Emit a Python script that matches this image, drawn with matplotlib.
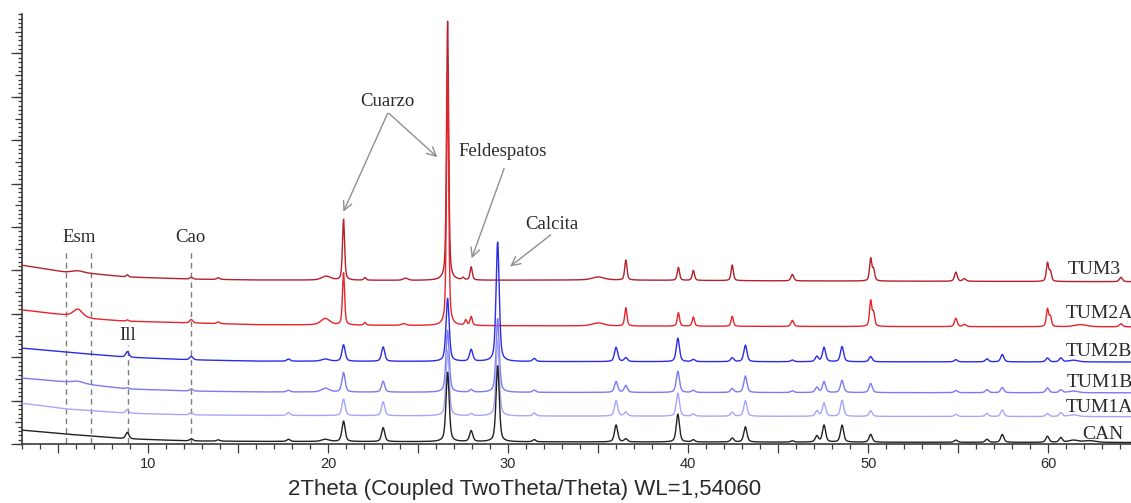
import numpy as np
import matplotlib
matplotlib.use("Agg")
import matplotlib.pyplot as plt
from matplotlib.ticker import MultipleLocator, FixedLocator, FuncFormatter, NullFormatter

# ---- diffractogram data (2theta in degrees, intensity in stacked axis units) ----
samples = ["TUM3", "TUM2A", "TUM2B", "TUM1B", "TUM1A", "CAN"]
colors = ["#b5202b", "#e9232b", "#2b2be8", "#7a7af5", "#a6a6fb", "#222222"]

# background level of each trace at a few 2theta positions
bg_x_red = [3, 5.4, 7.0, 8.8, 12.4, 16, 25, 35, 45, 64.6]
bg_tum3 = [4.12, 3.96, 3.92, 3.85, 3.80, 3.78, 3.77, 3.78, 3.76, 3.74]
bg_tum2a = [3.09, 2.97, 2.88, 2.83, 2.79, 2.75, 2.73, 2.72, 2.71, 2.70]
bg_x_blue = [3, 5.4, 8.8, 12.4, 16, 30, 64.6]
bg_tum2b = [2.21, 2.12, 2.00, 1.94, 1.91, 1.90, 1.89]
bg_tum1b = [1.52, 1.43, 1.27, 1.22, 1.20, 1.19, 1.18]
bg_tum1a = [0.94, 0.81, 0.71, 0.67, 0.66, 0.645, 0.63]
bg_can = [0.32, 0.23, 0.12, 0.07, 0.06, 0.05, 0.035]

# reflections: position, height above background, FWHM
pos_tum3 = [6.1, 8.85, 12.4, 13.9, 19.9, 20.86, 22.05, 24.3, 26.64, 27.5, 27.95, 35.0,
            36.54, 39.46, 40.29, 42.45, 45.79, 50.14, 50.30, 54.87, 55.35, 59.96, 60.12, 64.04]
hgt_tum3 = [0.05, 0.05, 0.04, 0.04, 0.09, 1.40, 0.06, 0.05, 5.97, 0.05, 0.30, 0.07,
            0.46, 0.30, 0.23, 0.36, 0.15, 0.51, 0.25, 0.21, 0.06, 0.42, 0.22, 0.10]
fw_tum3 = [0.8, 0.15, 0.2, 0.2, 0.6, 0.14, 0.15, 0.3, 0.14, 0.15, 0.15, 0.8,
           0.15, 0.15, 0.15, 0.15, 0.18, 0.15, 0.15, 0.18, 0.2, 0.15, 0.15, 0.2]

pos_tum2a = [6.1, 8.85, 12.4, 13.9, 19.85, 20.86, 22.05, 24.2, 26.64, 27.65, 27.95, 35.0,
             36.54, 39.46, 40.29, 42.45, 45.79, 50.14, 50.30, 54.87, 55.35, 59.96, 60.12,
             61.8, 64.04]
hgt_tum2a = [0.18, 0.03, 0.08, 0.04, 0.15, 1.20, 0.06, 0.04, 5.87, 0.12, 0.20, 0.07,
             0.42, 0.31, 0.21, 0.23, 0.14, 0.58, 0.30, 0.19, 0.05, 0.40, 0.22,
             0.05, 0.07]
fw_tum2a = [0.6, 0.15, 0.2, 0.2, 0.6, 0.14, 0.15, 0.3, 0.14, 0.15, 0.15, 0.8,
            0.15, 0.15, 0.15, 0.15, 0.18, 0.15, 0.15, 0.18, 0.2, 0.15, 0.15,
            0.8, 0.2]

pos_tum2b = [8.85, 12.4, 17.8, 19.85, 20.86, 23.06, 26.64, 27.95, 29.42, 31.45, 36.0,
             36.54, 39.43, 40.29, 42.45, 43.18, 45.79, 47.15, 47.55, 48.55, 50.14, 54.87,
             56.6, 57.45, 59.96, 60.7, 61.4]
hgt_tum2b = [0.13, 0.08, 0.05, 0.05, 0.38, 0.33, 1.45, 0.27, 2.75, 0.07, 0.33,
             0.09, 0.54, 0.05, 0.09, 0.38, 0.04, 0.12, 0.33, 0.35, 0.12, 0.05,
             0.07, 0.17, 0.09, 0.09, 0.04]

pos_tum1b = [6.1, 8.85, 12.4, 17.8, 19.85, 20.86, 23.06, 26.64, 27.95, 29.42, 31.45, 36.0,
             36.54, 39.43, 40.29, 42.45, 43.18, 45.79, 47.15, 47.55, 48.55, 50.14, 54.87,
             56.6, 57.45, 59.96, 60.7, 61.4]
hgt_tum1b = [0.05, 0.03, 0.05, 0.04, 0.09, 0.45, 0.25, 1.43, 0.06, 1.70, 0.05, 0.25,
             0.16, 0.49, 0.05, 0.09, 0.38, 0.04, 0.12, 0.25, 0.28, 0.21, 0.05,
             0.07, 0.12, 0.11, 0.07, 0.04]

pos_tum1a = [8.85, 12.4, 17.8, 20.86, 23.06, 26.64, 27.95, 29.42, 31.45, 36.0,
             36.54, 39.43, 40.29, 42.45, 43.18, 47.15, 47.55, 48.55, 50.14, 54.87,
             56.6, 57.45, 59.96, 60.7, 61.4]
hgt_tum1a = [0.09, 0.06, 0.07, 0.38, 0.32, 1.50, 0.05, 1.75, 0.07, 0.36,
             0.09, 0.53, 0.05, 0.09, 0.36, 0.12, 0.31, 0.37, 0.13, 0.05,
             0.07, 0.15, 0.07, 0.09, 0.04]

pos_can = [8.85, 12.4, 13.9, 17.8, 19.85, 20.86, 23.06, 26.64, 27.95, 29.42, 31.45, 36.0,
           36.54, 39.43, 40.29, 42.45, 43.18, 45.79, 47.15, 47.55, 48.55, 50.14, 54.87,
           56.6, 57.45, 59.96, 60.7, 61.4, 62.3]
hgt_can = [0.15, 0.05, 0.03, 0.05, 0.05, 0.47, 0.32, 1.60, 0.25, 1.75, 0.05, 0.39,
           0.07, 0.64, 0.05, 0.09, 0.35, 0.03, 0.14, 0.39, 0.39, 0.18, 0.05,
           0.07, 0.18, 0.14, 0.11, 0.05, 0.04]

# broad (clay / amorphous) humps in the calcite-rich samples; all other reflections share one width
broad_fwhm = {6.1: 0.8, 19.85: 0.5, 61.4: 0.6, 62.3: 0.8}
sharp_fwhm = 0.21

# phase markers
esm_lines = [5.44, 6.83]
cao_line = 12.39
ill_line = 8.87


def profile(x, positions, heights, widths):
    """Sum of pseudo-Voigt reflections with the given apex heights."""
    y = np.zeros_like(x)
    for p, h, w in zip(positions, heights, widths):
        hw = w / 2.0
        lor = 1.0 / (1.0 + ((x - p) / hw) ** 2)
        gau = np.exp(-np.log(2) * ((x - p) / hw) ** 2)
        y += h * (0.5 * lor + 0.5 * gau)
    return y


def widths_for(positions):
    return [broad_fwhm.get(p, sharp_fwhm) for p in positions]


two_theta = np.arange(3.0, 64.7, 0.005)
traces = {
    "TUM3": np.interp(two_theta, bg_x_red, bg_tum3) + profile(two_theta, pos_tum3, hgt_tum3, fw_tum3),
    "TUM2A": np.interp(two_theta, bg_x_red, bg_tum2a) + profile(two_theta, pos_tum2a, hgt_tum2a, fw_tum2a),
    "TUM2B": np.interp(two_theta, bg_x_blue, bg_tum2b) + profile(two_theta, pos_tum2b, hgt_tum2b, widths_for(pos_tum2b)),
    "TUM1B": np.interp(two_theta, bg_x_blue, bg_tum1b) + profile(two_theta, pos_tum1b, hgt_tum1b, widths_for(pos_tum1b)),
    "TUM1A": np.interp(two_theta, bg_x_blue, bg_tum1a) + profile(two_theta, pos_tum1a, hgt_tum1a, widths_for(pos_tum1a)),
    "CAN": np.interp(two_theta, bg_x_blue, bg_can) + profile(two_theta, pos_can, hgt_can, widths_for(pos_can)),
}

serif = ["Liberation Serif", "DejaVu Serif"]
sans = ["Liberation Sans", "DejaVu Sans"]
axis_col = "#3a3a3a"
text_col = "#2a2a2a"
arrow_col = "#8f8f8f"

fig = plt.figure(figsize=(11.31, 5.03), dpi=100)
ax = fig.add_axes([22 / 1131, 59 / 503, 1 - 22 / 1131, 430 / 503])
ax.set_xlim(3.0, 64.6)
ax.set_ylim(0, 9.91)

for name, col in zip(samples, colors):
    ax.plot(two_theta, traces[name], color=col, lw=1.0, zorder=3)

# sample names at the right end of each trace
label_pos = {"TUM3": (61.06, 4.03), "TUM2A": (60.95, 3.0), "TUM2B": (60.95, 2.13),
             "TUM1B": (61.0, 1.41), "TUM1A": (60.95, 0.85), "CAN": (61.89, 0.21)}
for name in samples:
    lx, ly = label_pos[name]
    ax.text(lx, ly, name, family=serif, fontsize=14, color=text_col,
            ha="left", va="center", zorder=4)

# phase markers
dash = dict(ls=(0, (4, 3)), color="#7d7d7d", lw=1.0, zorder=2)
for xv in esm_lines:
    ax.plot([xv, xv], [0.02, 4.47], **dash)
ax.plot([cao_line, cao_line], [0.02, 4.47], **dash)
ax.plot([ill_line, ill_line], [0.02, 2.28], **dash)
ax.text(6.17, 4.75, "Esm", family=serif, fontsize=13.5, color=text_col, ha="center", va="center")
ax.text(12.33, 4.75, "Cao", family=serif, fontsize=13.5, color=text_col, ha="center", va="center")
ax.text(8.89, 2.49, "Ill", family=serif, fontsize=13.5, color=text_col, ha="center", va="center")

# mineral annotations
arrow_kw = dict(arrowstyle="->", color=arrow_col, lw=1.0, mutation_scale=16,
                shrinkA=0, shrinkB=0)
ax.text(23.28, 7.90, "Cuarzo", family=serif, fontsize=13.5, color=text_col, ha="center", va="center")
ax.annotate("", xy=(20.85, 5.35), xytext=(23.31, 7.62), arrowprops=arrow_kw)
ax.annotate("", xy=(26.07, 6.61), xytext=(23.38, 7.62), arrowprops=arrow_kw)
ax.text(29.72, 6.73, "Feldespatos", family=serif, fontsize=13.5, color=text_col, ha="center", va="center")
ax.annotate("", xy=(27.98, 4.28), xytext=(29.78, 6.35), arrowprops=arrow_kw)
ax.text(32.44, 5.05, "Calcita", family=serif, fontsize=13.5, color=text_col, ha="center", va="center")
ax.annotate("", xy=(30.11, 4.09), xytext=(32.37, 4.82), arrowprops=arrow_kw)

# axes styling
for side in ("top", "right"):
    ax.spines[side].set_visible(False)
for side in ("left", "bottom"):
    ax.spines[side].set_color(axis_col)
    ax.spines[side].set_linewidth(1.2)

ax.xaxis.set_major_locator(MultipleLocator(5))
ax.xaxis.set_minor_locator(MultipleLocator(1))
ax.xaxis.set_major_formatter(FuncFormatter(lambda v, _: f"{int(round(v))}" if round(v) % 10 == 0 else ""))
ax.tick_params(axis="x", which="major", direction="out", length=6.2, width=0.9, color=axis_col,
               labelsize=10.5, labelcolor=text_col, pad=3)
ax.tick_params(axis="x", which="minor", direction="out", length=3.3, width=0.9, color=axis_col)
for lab in ax.get_xticklabels():
    lab.set_family(sans)

ax.yaxis.set_major_locator(MultipleLocator(0.5))
ax.yaxis.set_minor_locator(MultipleLocator(0.1))
ax.yaxis.set_major_formatter(NullFormatter())
ax.tick_params(axis="y", which="major", direction="out", length=5.2, width=0.9, color=axis_col)
ax.tick_params(axis="y", which="minor", direction="out", length=3.0, width=0.9, color=axis_col)

sec = ax.secondary_yaxis("left")
sec.spines["left"].set_visible(False)
sec.yaxis.set_major_locator(FixedLocator(np.arange(0, 10, 1)))
sec.yaxis.set_minor_locator(FixedLocator([]))
sec.yaxis.set_major_formatter(NullFormatter())
sec.tick_params(axis="y", which="major", direction="out", length=8, width=0.9, color=axis_col)

ax.set_xlabel("2Theta (Coupled TwoTheta/Theta) WL=1,54060", family=sans, fontsize=16,
              color=text_col)
ax.xaxis.set_label_coords((525 - 22) / 1109, -35 / 430)

fig.savefig("out.png", dpi=100)
